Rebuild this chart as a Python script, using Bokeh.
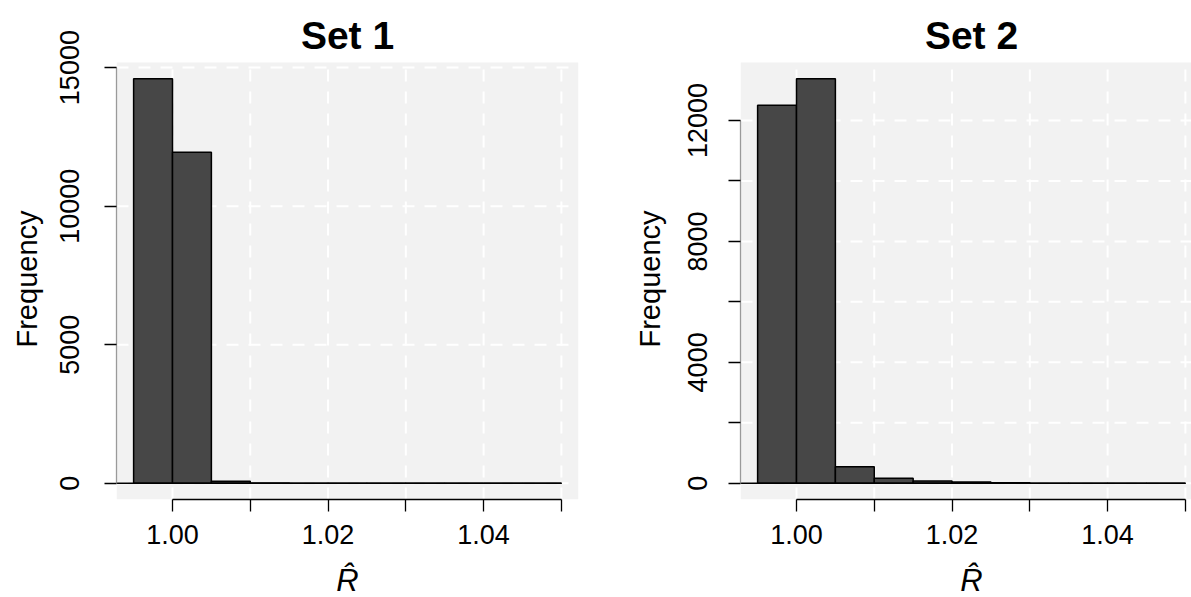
from bokeh.plotting import figure
from bokeh.layouts import row, column
from bokeh.models import FixedTicker, Range1d, ColumnDataSource
from bokeh.core.properties import value
from bokeh.embed import file_html
from bokeh.resources import INLINE

# ---- data ----
bin_left = [0.995, 1.000, 1.005, 1.010, 1.015, 1.020, 1.025, 1.030, 1.035, 1.040, 1.045]
bin_right = [1.000, 1.005, 1.010, 1.015, 1.020, 1.025, 1.030, 1.035, 1.040, 1.045, 1.050]
counts_set1 = [14600, 11950, 75, 15, 4, 2, 1, 1, 0, 0, 1]
counts_set2 = [12500, 13380, 550, 165, 75, 40, 15, 3, 2, 1, 1]
titles = ["Set 1", "Set 2"]
x_ticks = [1.00, 1.01, 1.02, 1.03, 1.04, 1.05]
x_labels = {1.00: "1.00", 1.01: "", 1.02: "1.02", 1.03: "", 1.04: "1.04", 1.05: ""}
y_ticks_set1 = [0, 5000, 10000, 15000]
y_labels_set1 = {0: "0", 5000: "5000", 10000: "10000", 15000: "15000"}
y_ticks_set2 = [0, 2000, 4000, 6000, 8000, 10000, 12000]
y_labels_set2 = {0: "0", 2000: "", 4000: "4000", 6000: "", 8000: "8000", 10000: "", 12000: "12000"}
x_title = "R\u0302"
y_title = "Frequency"

FONT = "Liberation Sans"
PX_PER_X = 462 / 0.0594      # pixels per x unit
REGION_TOP = 62               # top of the grey plot region (px from top)
REGION_H = 437                # height of the grey plot region
PANEL_H = 555
STRIP_H = 42
# the y title is centred on the whole frame; pad it so it centres on the grey region
Y_TITLE_PAD = "\u2003\u2003"


def make_panel(counts, title, yticks, ylabels, width, bl, br, frame_w,
               tick_standoff, lab_standoff):
    # R-style usr region (4% extension)
    x0 = min(bin_left) - 0.04 * (max(bin_right) - min(bin_left))
    x1 = x0 + 1.08 * (max(bin_right) - min(bin_left))
    ymax = max(counts)
    y0, y1 = -0.04 * ymax, 1.04 * ymax
    upp = (y1 - y0) / REGION_H
    frame_h = REGION_TOP + REGION_H
    xr = Range1d(x0, x0 + frame_w / PX_PER_X)
    yr = Range1d(y0, y0 + frame_h * upp)
    cx = 0.5 * (x0 + x1)

    p = figure(width=width, height=PANEL_H, output_backend="svg", toolbar_location=None,
               x_range=xr, y_range=yr, title=None,
               min_border_left=bl, min_border_right=br, min_border_top=0,
               min_border_bottom=PANEL_H - frame_h)
    p.background_fill_color = "white"
    p.border_fill_color = "white"
    p.outline_line_color = None
    p.grid.visible = False

    # grey plot region
    p.quad(left=[x0], right=[x1], bottom=[y0], top=[y1], fill_color="#f2f2f2",
           line_color=None)
    # dashed white grid inside the region
    p.segment(x0=x_ticks, y0=[y0] * len(x_ticks), x1=x_ticks, y1=[y1] * len(x_ticks),
              line_color="white", line_width=2, line_dash="12 10")
    p.segment(x0=[x0] * len(yticks), y0=yticks, x1=[x1] * len(yticks), y1=yticks,
              line_color="white", line_width=2, line_dash="12 10")

    # bars
    src = ColumnDataSource(dict(left=bin_left, right=bin_right, top=counts,
                                bottom=[0] * len(counts)))
    p.quad(left="left", right="right", top="top", bottom="bottom", source=src,
           fill_color="#474747", line_color="black", line_width=1.5)
    p.segment(x0=[x0], y0=[0], x1=[max(bin_right)], y1=[0], line_color="black",
              line_width=1.5)

    # title
    p.text(x=[cx], y=[y0 + (frame_h - 35) * upp], text=[title], text_font=value(FONT),
           text_font_size="39px", text_font_style="bold", text_align="center",
           text_baseline="alphabetic", text_color="black")

    # x axis
    xa = p.xaxis[0]
    xa.ticker = FixedTicker(ticks=x_ticks)
    xa.major_label_overrides = x_labels
    xa.bounds = (min(x_ticks), max(x_ticks))
    xa.axis_line_color = "black"
    xa.axis_line_width = 1.3
    xa.major_tick_line_color = "black"
    xa.major_tick_line_width = 1.3
    xa.major_tick_out = 12
    xa.major_tick_in = 0
    xa.minor_tick_line_color = None
    xa.major_label_text_font = FONT
    xa.major_label_text_font_size = "27px"
    xa.major_label_text_color = "black"
    xa.major_label_standoff = 13

    # y axis
    ya = p.yaxis[0]
    ya.ticker = FixedTicker(ticks=yticks)
    ya.major_label_overrides = ylabels
    ya.bounds = (min(yticks), max(yticks))
    ya.axis_line_color = "#9a9a9a"
    ya.axis_line_width = 1.3
    ya.major_tick_line_color = "black"
    ya.major_tick_line_width = 1.3
    ya.major_tick_out = 12
    ya.major_tick_in = 0
    ya.minor_tick_line_color = None
    ya.major_label_orientation = "parallel"
    ya.major_label_text_font = FONT
    ya.major_label_text_font_size = "27px"
    ya.major_label_text_color = "black"
    ya.major_label_standoff = tick_standoff
    ya.axis_label = y_title + Y_TITLE_PAD
    ya.axis_label_text_font = FONT
    ya.axis_label_text_font_size = "29px"
    ya.axis_label_text_font_style = "normal"
    ya.axis_label_text_color = "black"
    ya.axis_label_standoff = lab_standoff

    # strip below the panel holding the x-axis title (R with a hat)
    s = figure(width=width, height=STRIP_H, output_backend="svg", toolbar_location=None,
               x_range=xr, y_range=Range1d(STRIP_H, 0), title=None,
               x_axis_type=None, y_axis_type=None,
               min_border_left=bl, min_border_right=br, min_border_top=0,
               min_border_bottom=0)
    s.grid.visible = False
    s.outline_line_color = None
    s.background_fill_color = "white"
    s.border_fill_color = "white"
    s.text(x=[cx], y=[25], text=[x_title], text_font=value(FONT),
           text_font_size="31px", text_font_style="italic", text_align="center",
           text_baseline="alphabetic", text_color="black")
    return column(p, s)


c1 = make_panel(counts_set1, titles[0], y_ticks_set1, y_labels_set1, 620, 116, 42, 462,
                25, 15)
c2 = make_panel(counts_set2, titles[1], y_ticks_set2, y_labels_set2, 571, 120, 0, 451,
                21, 20)

layout = row(c1, c2)
open("out.html", "w").write(file_html(layout, INLINE))
